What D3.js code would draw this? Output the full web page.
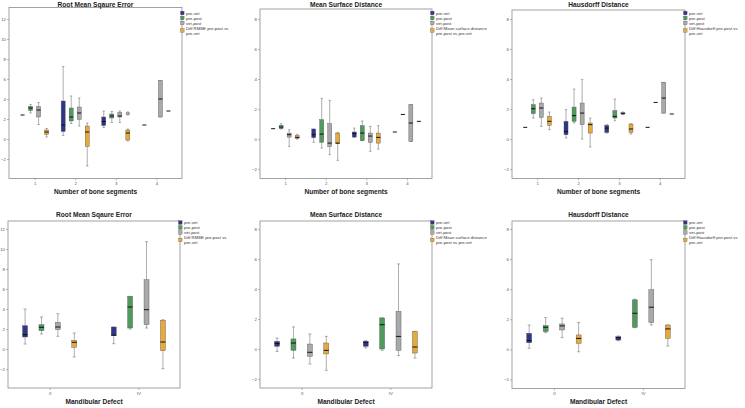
<!DOCTYPE html>
<html>
<head>
<meta charset="utf-8">
<script src="https://cdn.jsdelivr.net/npm/d3@7"></script>
<style>
  body { margin: 0; background: #fff; }
  svg { display: block; }
  text { font-family: "Liberation Sans", Arial, sans-serif; }
</style>
</head>
<body>
<svg id="chart" width="745" height="408"></svg>
<script>
var seriesKeys = ["pre-virt", "pre-post", "virt-post", "diff"];
var seriesColors = ["#2f3588", "#4f9b5d", "#a9a9a9", "#e8a93c"];
var segmentCats = ["1", "2", "3", "4"];
var defectCats = ["II", "IV"];

// each box: [low whisker, q1, median, q3, high whisker], one row per series, one box per category
var rmseSegments = [
  [[2.4,2.4,2.4,2.4,2.4], [0.35,0.75,1.4,3.8,7.25], [1.15,1.35,1.75,2.2,2.8], [1.4,1.4,1.4,1.4,1.4]],
  [[2.6,2.85,3.1,3.25,3.45], [1.55,1.8,2.2,3.1,4.3], [1.65,2.1,2.3,2.5,2.75], null],
  [[1.45,2.2,2.9,3.25,3.65], [1.3,1.95,2.6,3.2,4.1], [1.65,2.2,2.3,2.65,2.8], [2.2,2.2,4.0,5.85,5.85]],
  [[0.2,0.45,0.7,0.9,1.05], [-2.7,-0.75,0.7,1.3,1.6], [-0.2,-0.1,0.6,0.9,1.0], [2.8,2.8,2.8,2.8,2.8]]
];
var msdSegments = [
  [[0.69,0.69,0.69,0.69,0.69], [-0.22,0.09,0.29,0.67,0.67], [0.13,0.13,0.36,0.47,0.73], [0.47,0.47,0.47,0.47,0.47]],
  [[0.67,0.69,0.8,0.91,1.02], [-0.6,-0.22,0.33,1.29,2.71], [-0.11,-0.11,0.4,0.89,1.2], [1.64,1.64,1.64,1.64,1.64]],
  [[-0.49,0.13,0.29,0.4,0.62], [-1.04,-0.49,-0.27,1.02,2.58], [-0.82,-0.22,0.2,0.4,0.84], [-0.16,-0.16,1.07,2.29,2.29]],
  [[0,0.04,0.11,0.22,0.31], [-1.42,-0.31,-0.27,0.4,0.44], [-0.67,-0.27,0.11,0.4,0.89], [1.18,1.18,1.18,1.18,1.18]]
];
var hdSegments = [
  [[0.78,0.78,0.78,0.78,0.78], [0.07,0.29,0.51,1.18,1.96], [0.4,0.44,0.73,0.91,0.96], [0.78,0.78,0.78,0.78,0.78]],
  [[1.4,1.69,2.02,2.29,2.62], [1.07,1.18,1.56,2.13,3.33], [1.22,1.4,1.51,1.89,2.67], [2.44,2.44,2.44,2.44,2.44]],
  [[0.84,1.44,2.07,2.4,2.73], [0,0.96,1.73,2.4,3.96], [1.62,1.66,1.71,1.76,1.8], [1.73,1.73,2.73,3.78,3.78]],
  [[0.62,0.91,1.18,1.51,1.8], [-0.53,0.4,0.96,1.07,1.4], [0.33,0.44,0.67,1.0,1.02], [1.67,1.67,1.67,1.67,1.67]]
];
var rmseDefects = [
  [[0.5,1.2,1.43,2.33,4.0], [0.53,1.37,1.37,2.2,2.2]],
  [[1.5,1.83,2.17,2.43,3.2], [2.0,2.1,4.2,5.27,5.27]],
  [[1.27,1.93,2.2,2.67,3.53], [2.1,2.43,3.93,6.93,10.73]],
  [[-0.8,0.17,0.67,0.87,1.6], [-1.97,-0.17,0.7,2.87,2.93]]
];
var msdDefects = [
  [[-0.16,0.18,0.36,0.51,0.73], [0.07,0.18,0.44,0.51,0.56]],
  [[-0.6,-0.09,0.4,0.67,1.47], [-0.09,0,1.62,2.07,2.07]],
  [[-1.0,-0.49,-0.22,0.33,1.0], [-0.44,-0.09,0.84,2.51,5.67]],
  [[-1.42,-0.33,-0.09,0.4,0.84], [-0.6,-0.27,0.13,1.18,1.18]]
];
var hdDefects = [
  [[0.07,0.44,0.58,1.07,1.62], [0.58,0.62,0.78,0.84,0.89]],
  [[1.11,1.18,1.47,1.58,2.11], [1.44,1.47,2.4,3.29,3.33]],
  [[0.78,1.29,1.56,1.69,2.07], [1.62,1.78,2.8,3.96,5.96]],
  [[-0.16,0.4,0.73,0.96,1.78], [0.22,0.73,1.36,1.62,1.62]]
];
// outliers: [category, series index, value]
var rmseSegmentOutliers = [["3", 3, 2.55]];

var rmseLegend = ["pre-virt", "pre-post", "virt-post", ["Diff RMSE pre-post vs", "pre-virt"]];
var msdLegend = ["pre-virt", "pre-post", "virt-post", ["Diff Mean surface distance", "pre-post vs pre-virt"]];
var hdLegend = ["pre-virt", "pre-post", "virt-post", ["Diff Hausdorff pre-post vs", "pre-virt"]];

var rmseTicks = [-2, 0, 2, 4, 6, 8, 10, 12];
var distTicks = [-2, 0, 2, 4, 6, 8];

var svg = d3.select("#chart");

var panels = [
  {title: "Root Mean Sqaure Error", data: rmseSegments, cats: segmentCats, outliers: rmseSegmentOutliers,
   legend: rmseLegend, xTitle: "Number of bone segments", ticks: rmseTicks,
   x0: 9, x1: 182, y0: 7.5, y1: 178.5, dom: [-3.95, 13.15], pad: 0.63, cluster: 0.79, titleY: 6.5, legY: 13},
  {title: "Mean Surface Distance", data: msdSegments, cats: segmentCats, outliers: [],
   legend: msdLegend, xTitle: "Number of bone segments", ticks: distTicks,
   x0: 260, x1: 432, y0: 9, y1: 178.5, dom: [-2.63, 8.67], pad: 0.62, cluster: 0.79, titleY: 6.5, legY: 13},
  {title: "Hausdorff Distance", data: hdSegments, cats: segmentCats, outliers: [],
   legend: hdLegend, xTitle: "Number of bone segments", ticks: distTicks,
   x0: 512, x1: 685, y0: 10, y1: 178.5, dom: [-2.63, 8.6], pad: 0.62, cluster: 0.79, titleY: 6.5, legY: 13},
  {title: "Root Mean Sqaure Error", data: rmseDefects, cats: defectCats, outliers: [],
   legend: rmseLegend, xTitle: "Mandibular Defect", ticks: rmseTicks,
   x0: 8, x1: 180, y0: 221, y1: 388, dom: [-3.9, 12.8], pad: 0.47, cluster: 0.74, titleY: 217, legY: 222.5},
  {title: "Mean Surface Distance", data: msdDefects, cats: defectCats, outliers: [],
   legend: msdLegend, xTitle: "Mandibular Defect", ticks: distTicks,
   x0: 260, x1: 432, y0: 221, y1: 388, dom: [-2.6, 8.53], pad: 0.47, cluster: 0.74, titleY: 217, legY: 222.5},
  {title: "Hausdorff Distance", data: hdDefects, cats: defectCats, outliers: [],
   legend: hdLegend, xTitle: "Mandibular Defect", ticks: distTicks,
   x0: 512, x1: 685, y0: 221, y1: 388.5, dom: [-2.6, 8.53], pad: 0.47, cluster: 0.74, titleY: 217, legY: 222.5}
];

panels.forEach(function(p) {
  var g = svg.append("g");
  var x = d3.scalePoint().domain(p.cats).range([p.x0, p.x1]).padding(p.pad);
  var half = x.step() * p.cluster / 2;
  var xs = d3.scaleBand().domain(d3.range(seriesKeys.length)).range([-half, half]);
  var boxW = Math.min(5, xs.bandwidth() * 0.5);
  var y = d3.scaleLinear().domain(p.dom).range([p.y1, p.y0]);

  // plot frame
  g.append("rect")
    .attr("x", p.x0).attr("y", p.y0)
    .attr("width", p.x1 - p.x0).attr("height", p.y1 - p.y0)
    .attr("fill", "none").attr("stroke", "#8c8c8c").attr("stroke-width", 0.8);

  // y axis
  var yAxis = g.append("g").attr("transform", "translate(" + p.x0 + ",0)")
    .call(d3.axisLeft(y).tickValues(p.ticks).tickSize(2).tickPadding(1).tickFormat(d3.format("d")));
  yAxis.select(".domain").remove();
  yAxis.selectAll("line").attr("stroke", "#777").attr("stroke-width", 0.5);
  yAxis.selectAll("text").attr("font-size", "4.3px").attr("fill", "#555").style("font-family", "Liberation Sans, Arial, sans-serif");

  // x axis
  var xAxis = g.append("g").attr("transform", "translate(0," + p.y1 + ")")
    .call(d3.axisBottom(x).tickSize(2).tickPadding(1.5));
  xAxis.select(".domain").remove();
  xAxis.selectAll("line").attr("stroke", "#777").attr("stroke-width", 0.5);
  xAxis.selectAll("text").attr("font-size", "4.3px").attr("fill", "#555").style("font-family", "Liberation Sans, Arial, sans-serif");

  // titles
  g.append("text").attr("x", (p.x0 + p.x1) / 2).attr("y", p.titleY)
    .attr("text-anchor", "middle").attr("font-size", "6.6px").attr("font-weight", "bold")
    .attr("fill", "#222").text(p.title);
  g.append("text").attr("x", (p.x0 + p.x1) / 2).attr("y", p.y1 + 15.5)
    .attr("text-anchor", "middle").attr("font-size", "6.6px").attr("font-weight", "bold")
    .attr("fill", "#222").text(p.xTitle);

  // boxes
  p.data.forEach(function(series, si) {
    series.forEach(function(b, ci) {
      if (!b) return;
      var cx = x(p.cats[ci]) + xs(si) + xs.bandwidth() / 2;
      var bg = g.append("g");
      if (b[0] !== b[4]) {
        bg.append("line").attr("x1", cx).attr("x2", cx).attr("y1", y(b[0])).attr("y2", y(b[4]))
          .attr("stroke", "#777").attr("stroke-width", 0.6);
        [b[0], b[4]].forEach(function(v) {
          bg.append("line").attr("x1", cx - boxW * 0.3).attr("x2", cx + boxW * 0.3)
            .attr("y1", y(v)).attr("y2", y(v)).attr("stroke", "#777").attr("stroke-width", 0.6);
        });
      }
      if (b[3] !== b[1]) {
        bg.append("rect").attr("x", cx - boxW / 2).attr("y", y(b[3]))
          .attr("width", boxW).attr("height", y(b[1]) - y(b[3]))
          .attr("fill", seriesColors[si]).attr("stroke", "#555").attr("stroke-width", 0.4);
      }
      bg.append("line").attr("x1", cx - boxW / 2).attr("x2", cx + boxW / 2)
        .attr("y1", y(b[2])).attr("y2", y(b[2])).attr("stroke", "#111").attr("stroke-width", 1);
    });
  });

  p.outliers.forEach(function(o) {
    var cx = x(o[0]) + xs(o[1]) + xs.bandwidth() / 2;
    g.append("circle").attr("cx", cx).attr("cy", y(o[2])).attr("r", 1.6)
      .attr("fill", "#bbb").attr("stroke", "#444").attr("stroke-width", 0.6);
  });

  // legend
  var lg = g.append("g").attr("transform", "translate(" + (p.x1 - 1.5) + "," + p.legY + ")");
  p.legend.forEach(function(lab, i) {
    var lines = Array.isArray(lab) ? lab : [lab];
    var ty = i * 5;
    var sy = lines.length > 1 ? ty + 2.5 : ty;
    lg.append("rect").attr("x", 0).attr("y", sy - 1.8).attr("width", 3.6).attr("height", 3.6)
      .attr("fill", seriesColors[i]).attr("stroke", "#555").attr("stroke-width", 0.3);
    lines.forEach(function(t, li) {
      lg.append("text").attr("x", 5.5).attr("y", ty + li * 5 + 1.5)
        .attr("font-size", "4.3px").attr("fill", "#333").text(t);
    });
  });
});
</script>
</body>
</html>
